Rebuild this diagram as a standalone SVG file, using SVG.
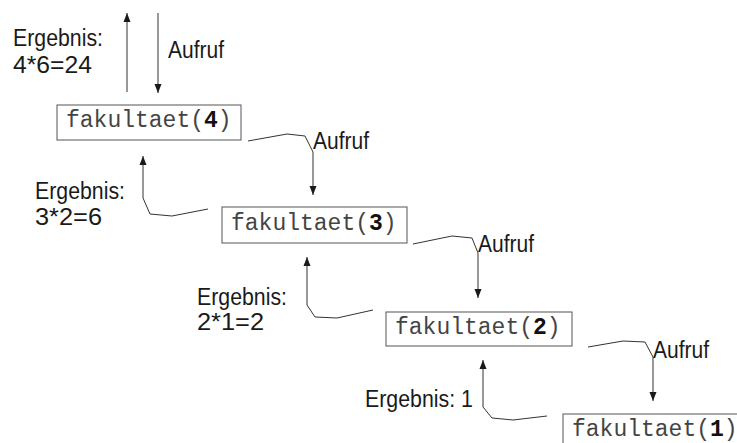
<svg xmlns="http://www.w3.org/2000/svg" width="737" height="443" viewBox="0 0 737 443">
<defs>
<marker id="ah" markerUnits="userSpaceOnUse" markerWidth="10" markerHeight="8" refX="9" refY="4" orient="auto">
<path d="M0,0.5 L9,4 L0,7.5 z" fill="#1a1a1a"/>
</marker>
<style>
.box{fill:#fff;stroke:#555;stroke-width:1}
.code{font-family:"Liberation Mono","Courier New",monospace;font-size:23px;fill:#444}
.code tspan{font-weight:bold;fill:#111}
.lbl{font-family:"Liberation Sans",Arial,sans-serif;font-size:23px;fill:#1a1a1a}
.con{fill:none;stroke:#333;stroke-width:1;marker-end:url(#ah)}
</style>
</defs>
<rect width="737" height="443" fill="#fff"/>
<g id="connectors">
<path class="con" d="M127,92 L127,13"/>
<path class="con" d="M158,13 L158,93"/>
<path class="con" d="M248,141 L287,134 L305,136 L313,152 L313,195"/>
<path class="con" d="M208,209 L172,216 L150,214 L143,198 L143,156"/>
<path class="con" d="M413,244 L452,236 L472,238 L478,253 L478,298"/>
<path class="con" d="M373,310 L337,318 L315,317 L307,305 L307,257"/>
<path class="con" d="M588,347 L623,341 L645,342 L653,357 L653,401"/>
<path class="con" d="M547,416 L513,420 L492,418 L483,407 L483,360"/>
</g>
<g id="node4">
<rect class="box" x="57" y="105" width="184" height="35"/>
<text class="code" x="66" y="127">fakultaet(<tspan>4</tspan>)</text>
</g>
<g id="node3">
<rect class="box" x="222" y="207" width="185" height="36"/>
<text class="code" x="231" y="230">fakultaet(<tspan>3</tspan>)</text>
</g>
<g id="node2">
<rect class="box" x="386" y="312" width="186" height="34"/>
<text class="code" x="395" y="334">fakultaet(<tspan>2</tspan>)</text>
</g>
<g id="node1">
<rect class="box" x="563" y="414" width="186" height="35"/>
<text class="code" x="572" y="436">fakultaet(<tspan>1</tspan>)</text>
</g>
<g id="labels">
<text class="lbl" x="13" y="46" textLength="90" lengthAdjust="spacingAndGlyphs">Ergebnis:</text>
<text class="lbl" x="13" y="73" textLength="79" lengthAdjust="spacingAndGlyphs">4*6=24</text>
<text class="lbl" x="168" y="58" textLength="56" lengthAdjust="spacingAndGlyphs">Aufruf</text>
<text class="lbl" x="313" y="149" textLength="56" lengthAdjust="spacingAndGlyphs">Aufruf</text>
<text class="lbl" x="35" y="199" textLength="90" lengthAdjust="spacingAndGlyphs">Ergebnis:</text>
<text class="lbl" x="35" y="225" textLength="67" lengthAdjust="spacingAndGlyphs">3*2=6</text>
<text class="lbl" x="478" y="252" textLength="56" lengthAdjust="spacingAndGlyphs">Aufruf</text>
<text class="lbl" x="197" y="305" textLength="90" lengthAdjust="spacingAndGlyphs">Ergebnis:</text>
<text class="lbl" x="197" y="330" textLength="67" lengthAdjust="spacingAndGlyphs">2*1=2</text>
<text class="lbl" x="653" y="358" textLength="56" lengthAdjust="spacingAndGlyphs">Aufruf</text>
<text class="lbl" x="365" y="407" textLength="108" lengthAdjust="spacingAndGlyphs">Ergebnis: 1</text>
</g>
</svg>
